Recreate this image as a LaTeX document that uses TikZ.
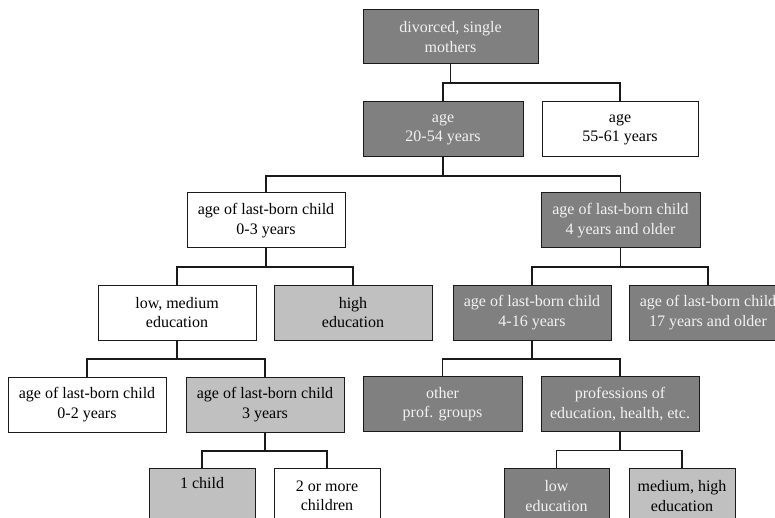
\documentclass[tikz,border=0pt]{standalone}
\usepackage{fontspec}
\setmainfont{Liberation Serif}
\definecolor{darkbox}{HTML}{808080}
\definecolor{lightbox}{HTML}{C0C0C0}
\definecolor{darktext}{HTML}{F2F2F2}
\definecolor{linecol}{HTML}{1A1A1A}
\tikzset{
  box/.style={draw=linecol, line width=1pt, rectangle, align=center, inner sep=0pt,
    minimum width=158pt, minimum height=55pt, font=\fontsize{16}{19.5}\selectfont},
  darkb/.style={box, fill=darkbox, text=darktext},
  lightb/.style={box, fill=lightbox, text=black},
  whiteb/.style={box, fill=white, text=black},
  conn/.style={draw=linecol, line width=1.1pt},
}
\begin{document}
\begin{tikzpicture}[x=1pt,y=-1pt]
\useasboundingbox (0,0) rectangle (775,518);
\clip (0,0) rectangle (775,518);
\node[darkb, minimum width=175pt, minimum height=54pt] (n1) at (450.5,37) {divorced, single\\mothers};
\node[darkb, minimum width=160pt] (n2) at (443,129.5) {age\\20-54 years};
\node[whiteb, minimum width=156pt] (n3) at (620,129.5) {age\\55-61 years};
\node[whiteb] (n4) at (266,220.5) {age of last-born child\\0-3 years};
\node[darkb, minimum width=159pt] (n5) at (620.5,220.5) {age of last-born child\\4 years and older};
\node[whiteb] (n6) at (177,312.5) {low, medium\\education};
\node[lightb] (n7) at (353,312.5) {high\\education};
\node[darkb] (n8) at (532,312.5) {age of last-born child\\4-16 years};
\node[darkb] (n9) at (708,312.5) {age of last-born child\\17 years and older};
\node[whiteb] (n10) at (87,404.5) {age of last-born child\\0-2 years};
\node[lightb] (n11) at (265,404.5) {age of last-born child\\3 years};
\node[darkb, minimum width=159pt] (n12) at (442.5,404) {other\\prof. groups};
\node[darkb] (n13) at (620,404) {professions of\\education, health, etc.};
\node[lightb, minimum width=106pt] (n14) at (202,496) {1 child\\\strut};
\node[whiteb, minimum width=106pt] (n15) at (327,496) {2 or more\\children};
\node[darkb, minimum width=105pt] (n16) at (556.5,496) {low\\education};
\node[lightb, minimum width=106pt] (n17) at (682,496) {medium, high\\education};
% connectors
\foreach \p/\a/\b in {n1/n2/n3, n2/n4/n5, n4/n6/n7, n5/n8/n9, n6/n10/n11, n8/n12/n13, n11/n14/n15, n13/n16/n17}{
  \draw[conn] (\p.south) -- ++(0,18.5) coordinate (f\p);
  \draw[conn] (f\p) -| (\a.north);
  \draw[conn] (f\p) -| (\b.north);
}
\end{tikzpicture}
\end{document}
